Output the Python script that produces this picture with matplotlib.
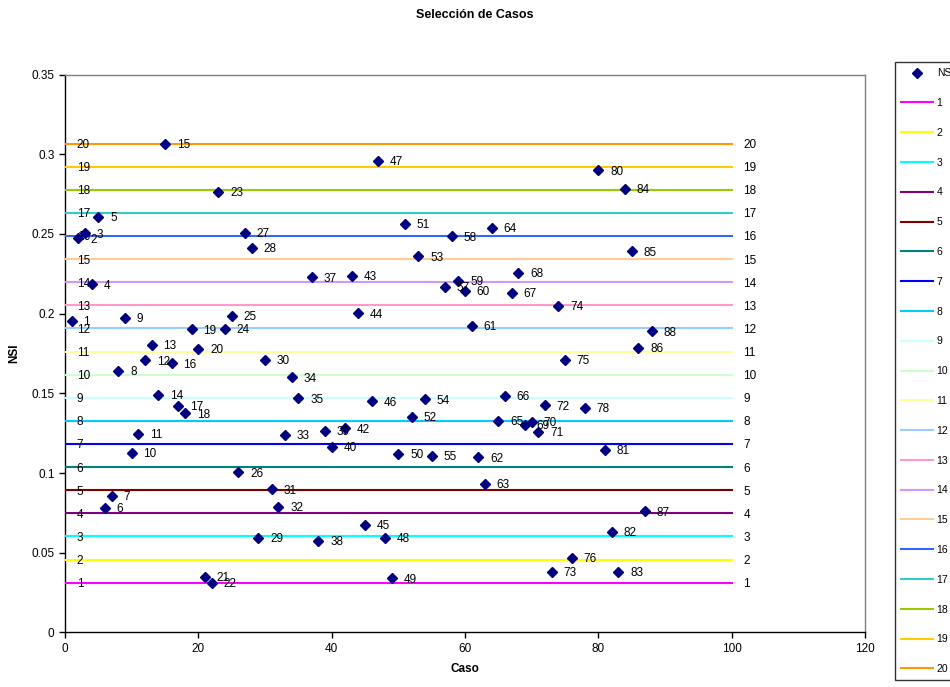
import matplotlib
matplotlib.use("Agg")
import matplotlib.pyplot as plt
from matplotlib.lines import Line2D

plt.rcParams['font.family'] = ['Liberation Sans', 'DejaVu Sans']

# ---- data ----
cases = [1, 2, 3, 4, 5, 6, 7, 8, 9, 10,
         11, 12, 13, 14, 15, 16, 17, 18, 19, 20,
         21, 22, 23, 24, 25, 26, 27, 28, 29, 30,
         31, 32, 33, 34, 35, 37, 38, 39, 40,
         42, 43, 44, 45, 46, 47, 48, 49, 50,
         51, 52, 53, 54, 55, 57, 58, 59, 60,
         61, 62, 63, 64, 65, 66, 67, 68, 69, 70,
         71, 72, 73, 74, 75, 76, 78, 80,
         81, 82, 83, 84, 85, 86, 87, 88]
nsi = [0.1956, 0.2473, 0.2504, 0.2184, 0.2609, 0.0781, 0.0856, 0.1640, 0.1975, 0.1126,
       0.1245, 0.1707, 0.1803, 0.1490, 0.3067, 0.1689, 0.1423, 0.1375, 0.1902, 0.1778,
       0.0350, 0.0312, 0.2764, 0.1904, 0.1985, 0.1005, 0.2508, 0.2412, 0.0594, 0.1709,
       0.0898, 0.0789, 0.1239, 0.1601, 0.1469, 0.2228, 0.0576, 0.1264, 0.1163,
       0.1281, 0.2236, 0.2002, 0.0674, 0.1450, 0.2958, 0.0594, 0.0339, 0.1119,
       0.2563, 0.1354, 0.2360, 0.1463, 0.1107, 0.2169, 0.2486, 0.2205, 0.2144,
       0.1923, 0.1099, 0.0931, 0.2540, 0.1329, 0.1483, 0.2130, 0.2257, 0.1301, 0.1320,
       0.1258, 0.1425, 0.0381, 0.2048, 0.1709, 0.0469, 0.1408, 0.2900,
       0.1147, 0.0632, 0.0379, 0.2784, 0.2391, 0.1785, 0.0760, 0.1889]

level_names = [str(i) for i in range(1, 21)]
level_values = [0.0312, 0.0457, 0.0602, 0.0747, 0.0892, 0.1037, 0.1182, 0.1327, 0.1472, 0.1617,
                0.1762, 0.1907, 0.2052, 0.2197, 0.2342, 0.2487, 0.2632, 0.2777, 0.2922, 0.3067]
level_x = [0, 100]
level_colors = ['#FF00FF', '#FFFF00', '#00FFFF', '#800080', '#800000', '#008080', '#0000FF',
                '#00CCFF', '#CCFFFF', '#CCFFCC', '#FFFF99', '#99CCFF', '#FF99CC', '#CC99FF',
                '#FFCC99', '#3366FF', '#33CCCC', '#99CC00', '#FFCC00', '#FF9900']

x_ticks = [0, 20, 40, 60, 80, 100, 120]
y_ticks = [0, 0.05, 0.1, 0.15, 0.2, 0.25, 0.3, 0.35]
y_ticklabels = ['0', '0.05', '0.1', '0.15', '0.2', '0.25', '0.3', '0.35']

# ---- figure ----
fig = plt.figure(figsize=(9.5, 6.87), dpi=100)
ax = fig.add_axes([65/950, 1 - 632.4/687, 800/950, (632.4 - 74.6)/687])

handles = []
h_nsi, = ax.plot(cases, nsi, linestyle='none', marker='D', markersize=4.8,
                 color='#000080', label='NSI', zorder=5)
handles.append(h_nsi)
for c, v in zip(cases, nsi):
    ax.annotate(str(c), (c, v), xytext=(8.5, -1), textcoords='offset points',
                va='center', ha='left', fontsize=8.5, color='#000000', zorder=6)

for name, v, col in zip(level_names, level_values, level_colors):
    h, = ax.plot(level_x, [v, v], color=col, lw=1.5, label=name, zorder=3)
    handles.append(h)
    for xx in level_x:
        ax.annotate(name, (xx, v), xytext=(8.5, -1), textcoords='offset points',
                    va='center', ha='left', fontsize=8.5, color='#000000', zorder=4)

ax.set_xlim(0, 120)
ax.set_ylim(0, 0.35)
ax.set_xticks(x_ticks)
ax.set_xticklabels([str(t) for t in x_ticks])
ax.set_yticks(y_ticks)
ax.set_yticklabels(y_ticklabels)
ax.tick_params(direction='out', length=4, width=1, labelsize=8.5, colors='#000000')
for s in ['left', 'bottom']:
    ax.spines[s].set_color('#000000')
    ax.spines[s].set_linewidth(1)
for s in ['top', 'right']:
    ax.spines[s].set_color('#808080')
    ax.spines[s].set_linewidth(1)

ax.set_xlabel('Caso', fontsize=8.5, fontweight='bold', labelpad=6)
ax.set_ylabel('NSI', fontsize=8.5, fontweight='bold', labelpad=8)
fig.text(0.5, 1 - 15/687, 'Selección de Casos', ha='center', va='center',
         fontsize=9, fontweight='bold')

leg = fig.legend(handles=handles, loc='upper left',
                 bbox_to_anchor=(895/950, 1 - 62/687),
                 fontsize=7.5, frameon=True, fancybox=False,
                 edgecolor='#000000', handlelength=3.0, handletextpad=0.4,
                 labelspacing=1.9, borderpad=0.6, borderaxespad=0)
leg.get_frame().set_linewidth(1)

fig.savefig('out.png', dpi=100, facecolor='white')
